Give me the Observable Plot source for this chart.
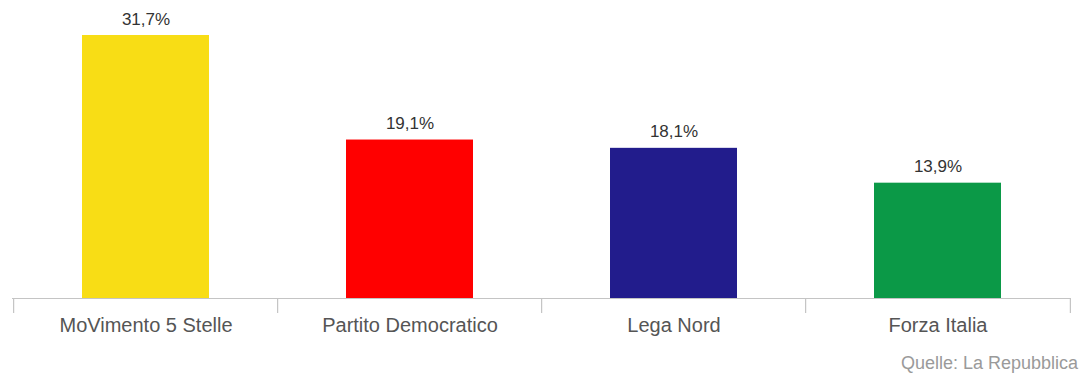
<!DOCTYPE html>
<html><head><meta charset="utf-8">
<script src="https://cdn.jsdelivr.net/npm/d3@7"></script>
<script src="https://cdn.jsdelivr.net/npm/@observablehq/plot@0.6"></script>
<style>
body{margin:0;background:#fff;font-family:"Liberation Sans",Arial,sans-serif;}
#caption{width:1082px;text-align:right;font-size:18px;color:#9a9a9a;box-sizing:border-box;padding-right:4px;margin-top:1px;}
</style>
</head><body><div id="chart"></div><div id="caption">Quelle: La Repubblica</div>
<script>
const parties = ["MoVimento 5 Stelle", "Partito Democratico", "Lega Nord", "Forza Italia"];
const shares = [31.7, 19.1, 18.1, 13.9];
const shareLabels = ["31,7%", "19,1%", "18,1%", "13,9%"];
const partyColors = ["#f8dd15", "#ff0000", "#221c8c", "#0b9947"];

const data = parties.map((p, i) => ({party: p, share: shares[i], label: shareLabels[i]}));
const W = 1082, ML = 12, MR = 11;
const step = (W - ML - MR) / parties.length;

const chart = Plot.plot({
  width: W, height: 352,
  marginLeft: ML, marginRight: MR, marginTop: 35, marginBottom: 54,
  style: {fontFamily: "'Liberation Sans', Arial, sans-serif", background: "#fff"},
  x: {domain: parties, paddingInner: 0.52, paddingOuter: 0.26, label: null},
  y: {domain: [0, 31.7], axis: null},
  color: {domain: parties, range: partyColors},
  marks: [
    Plot.barY(data, {x: "party", y: "share", fill: "party"}),
    Plot.text(data, {x: "party", y: "share", text: "label", dy: -11, lineAnchor: "bottom", fontSize: 17, fill: "#333"}),
    Plot.ruleY([0], {stroke: "#c4c4c4", strokeWidth: 1.2}),
    Plot.ruleX(parties, {x: d => d, y1: d => 0, y2: d => 0, insetBottom: -15, dx: -step / 2, stroke: "#c4c4c4", strokeWidth: 1.2}),
    Plot.ruleX(parties.slice(-1), {x: d => d, y1: d => 0, y2: d => 0, insetBottom: -15, dx: step / 2, stroke: "#c4c4c4", strokeWidth: 1.2}),
    Plot.axisX({tickSize: 0, tickPadding: 19, fontSize: 20, color: "#555", label: null})
  ]
});
document.getElementById("chart").appendChild(chart);
</script>
</body></html>
